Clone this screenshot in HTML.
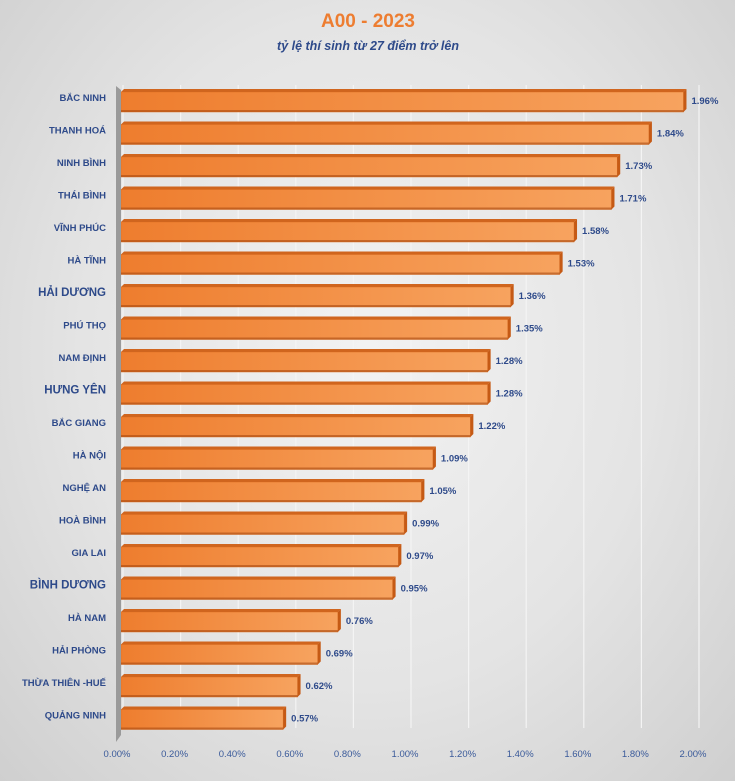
<!DOCTYPE html>
<html><head><meta charset="utf-8"><style>
html,body{margin:0;padding:0;}
body{width:735px;height:781px;overflow:hidden;font-family:"Liberation Sans",sans-serif;}
#bg{position:absolute;left:0;top:0;width:735px;height:781px;background:radial-gradient(ellipse at 50% 45%,#f2f2f2 0%,#e4e4e4 55%,#cfcfcf 100%);}
</style></head><body>
<div id="bg"></div>
<svg id="c" width="735" height="781" style="position:absolute;left:0;top:0">
<defs>
<linearGradient id="bf" x1="0" x2="1" y1="0" y2="0"><stop offset="0" stop-color="#ee7d2e"/><stop offset="1" stop-color="#f7a35f"/></linearGradient>
</defs>
<text x="368" y="27" text-anchor="middle" font-size="19" font-weight="bold" fill="#ed7d31">A00 - 2023</text>
<text x="368" y="50" text-anchor="middle" font-size="12.5" font-weight="bold" font-style="italic" fill="#2e4a8a">tỷ lệ thí sinh từ 27 điểm trở lên</text>
<g id="grid"></g><g id="bars"></g><g id="axis"></g>
</svg>
<script>
const categories=["BẮC NINH","THANH HOÁ","NINH BÌNH","THÁI BÌNH","VĨNH PHÚC","HÀ TĨNH","HẢI DƯƠNG","PHÚ THỌ","NAM ĐỊNH","HƯNG YÊN","BẮC GIANG","HÀ NỘI","NGHỆ AN","HOÀ BÌNH","GIA LAI","BÌNH DƯƠNG","HÀ NAM","HẢI PHÒNG","THỪA THIÊN -HUẾ","QUẢNG NINH"];
const values=[1.96,1.84,1.73,1.71,1.58,1.53,1.36,1.35,1.28,1.28,1.22,1.09,1.05,0.99,0.97,0.95,0.76,0.69,0.62,0.57];
const ticks=[0,0.2,0.4,0.6,0.8,1.0,1.2,1.4,1.6,1.8,2.0];
const NS="http://www.w3.org/2000/svg";
const x=v=>119+v*288;
const y=i=>100+i*32.5;
function mk(t,a,p){const e=document.createElementNS(NS,t);for(const k in a)e.setAttribute(k,a[k]);p.appendChild(e);return e;}
const G=document.getElementById('grid'),B=document.getElementById('bars'),A=document.getElementById('axis');
ticks.forEach(t=>{
 const l=mk('line',{x1:x(t)+4,x2:x(t)+4,y1:85,y2:728,stroke:'#f4f4f4','stroke-width':1.2},G);
 
 
 const tx=mk('text',{x:x(t)-2,y:757,'text-anchor':'middle','font-size':9.5,fill:'#3a5a9a'},A);
 tx.textContent=t.toFixed(2)+'%';
 
 
});
const wall=mk('polygon',{points:`${x(0)-3},86 ${x(0)+2},90 ${x(0)+2},735 ${x(0)-3},742`,fill:'#9a9a9a'},A);


values.forEach((v,i)=>{
 const yc=y(i),h=20,top=yc-h/2+2;
 const g=mk('g',{},B);
 
 
 mk('rect',{x:x(0)+2,y:top,width:x(v)-x(0)-2,height:h,fill:'url(#bf)',stroke:'#e07020','stroke-width':0.5},g);
 mk('polygon',{points:`${x(0)+2},${top} ${x(0)+5},${top-3} ${x(v)+3},${top-3} ${x(v)},${top}`,fill:'#d0651e'},g);
 mk('polygon',{points:`${x(v)},${top} ${x(v)+3},${top-3} ${x(v)+3},${top+h-3} ${x(v)},${top+h}`,fill:'#c55a15'},g);
 mk('rect',{x:x(0)+2,y:top+h-2,width:x(v)-x(0)-2,height:2,fill:'#a84a10',opacity:0.6},g);
 const vl=mk('text',{x:x(v)+8,y:yc+4,'font-size':9.5,'font-weight':'bold',fill:'#2e4a8a'},B);
 vl.textContent=v.toFixed(2)+'%';
 
 
 const cl=mk('text',{x:106,y:yc+1,'text-anchor':'end','font-size':[6,9,15].includes(i)?11.5:9.5,'font-weight':'bold',fill:'#2e4a8a'},A);
 cl.textContent=categories[i];
 
 
});
</script>
</body></html>
